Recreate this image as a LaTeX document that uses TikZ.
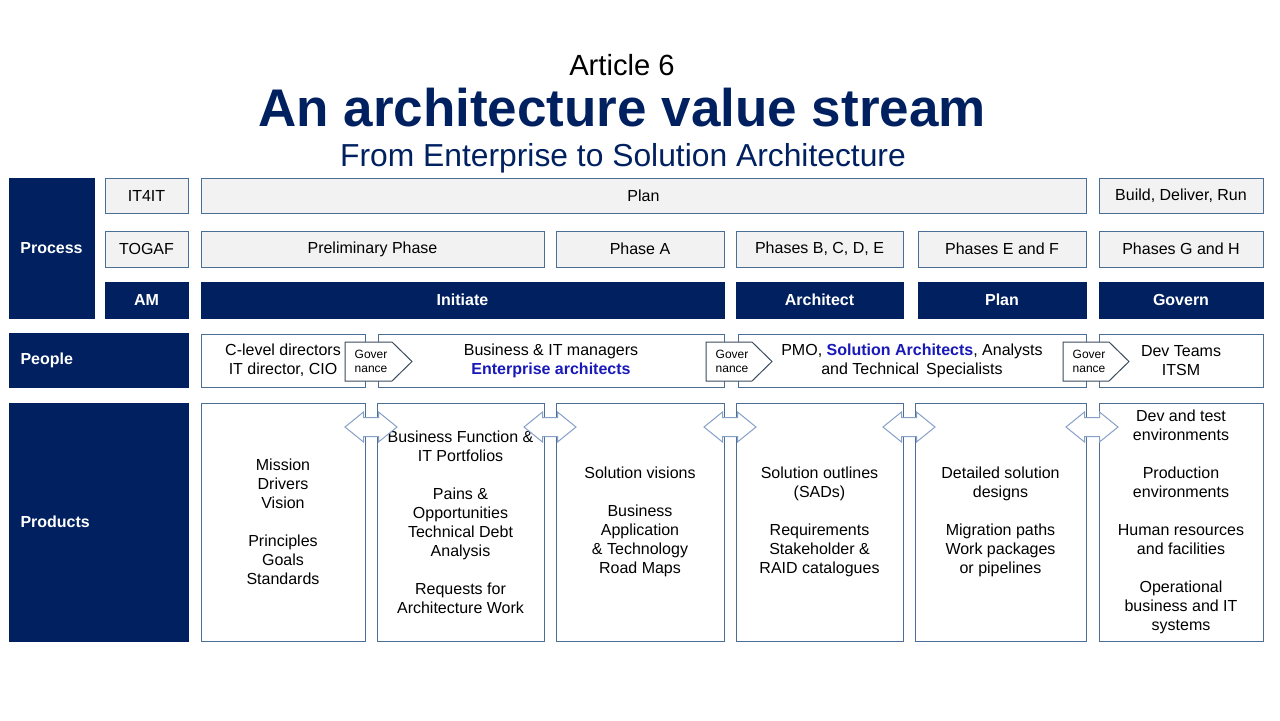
\documentclass[tikz,border=0pt]{standalone}
\usepackage{fontspec}
\setmainfont{Liberation Sans}
\definecolor{navy}{RGB}{0,32,96}
\definecolor{edge}{RGB}{75,110,150}
\definecolor{lightfill}{RGB}{242,242,242}
\definecolor{hl}{RGB}{25,25,185}
\definecolor{arrowedge}{RGB}{135,160,200}
\definecolor{govedge}{RGB}{60,75,95}

% box from its corners (pixel units): name, style, x1, y1, x2, y2, text
\newcommand\boxat[7]{%
  \pgfmathsetmacro\bw{(#5-#3)*0.5}%
  \pgfmathsetmacro\bh{(#6-#4)*0.5}%
  \node[#2, minimum width=\bw pt, minimum height=\bh pt] (#1) at ({(#3+#5)/2},{(#4+#6)/2}) {#7};}

% governance pentagon: name, left x, tip x
\newcommand\govshape[3]{%
  \draw[gov] (#2,342) -- ({#3-20},342) -- (#3,361.5) -- ({#3-20},381) -- (#2,381) -- cycle;
  \node[govtext] (#1) at ({#2+26},361.5) {Gover\\nance};}

% two-headed exchange arrow centred at x
\newcommand\exch[1]{%
  \draw[xarrow] ({#1-26},427) -- ({#1-7.5},412) -- ({#1-7.5},417.5) -- ({#1+7.5},417.5)
    -- ({#1+7.5},412) -- ({#1+26},427) -- ({#1+7.5},442) -- ({#1+7.5},436.5)
    -- ({#1-7.5},436.5) -- ({#1-7.5},442) -- cycle;}

\begin{document}
\begin{tikzpicture}[x=0.5pt,y=-0.5pt,
  base/.style={rectangle, inner sep=0pt, line width=0.5pt, align=center,
    font=\fontsize{8}{9.5}\selectfont},
  greybox/.style={base, draw=edge, fill=lightfill},
  whitebox/.style={base, draw=edge, fill=white},
  navybox/.style={base, draw=navy, fill=navy, text=white,
    font=\bfseries\fontsize{8}{9.5}\selectfont},
  sidelabel/.style={navybox, align=left, text width=78pt, inner xsep=5.5pt},
  gov/.style={draw=govedge, fill=white, line width=0.5pt},
  govtext/.style={inner sep=0pt, align=center, font=\fontsize{6}{7.2}\selectfont},
  xarrow/.style={draw=arrowedge, fill=white, line width=0.5pt, line join=miter},
  hltext/.style={text=hl, font=\bfseries}]
\useasboundingbox (0,0) rectangle (1280,720);

% titles
\node[anchor=base, font=\fontsize{14.6}{16}\selectfont] (art) at (622,75.5) {Article 6};
\node[anchor=base, text=navy, font=\bfseries\fontsize{26.5}{30}\selectfont] (ttl) at (622,126) {An architecture value stream};
\node[anchor=base, text=navy, font=\fontsize{15.9}{18}\selectfont] (sub) at (623,166) {From Enterprise to Solution Architecture};

% side labels
\boxat{process}{navybox}{9}{178}{94}{318}{Process}
\boxat{people}{sidelabel}{9}{333}{188}{387}{People}
\boxat{products}{sidelabel}{9}{403}{188}{641}{Products}

% process rows
\boxat{itfourit}{greybox}{105}{178}{188}{213}{IT4IT}
\boxat{togaf}{greybox}{105}{231}{188}{267}{TOGAF}
\boxat{am}{navybox}{105}{282}{188}{318}{AM}

\boxat{plan}{greybox}{201}{178}{1086}{213}{Plan}
\boxat{bdr}{greybox}{1099}{178}{1263}{213}{Build, Deliver, Run}

\boxat{prelim}{greybox}{201}{231}{544}{267}{Preliminary Phase}
\boxat{phasea}{greybox}{556}{231}{724}{267}{Phase A}
\boxat{phasebcde}{greybox}{736}{231}{903}{267}{Phases B, C, D, E}
\boxat{phaseef}{greybox}{918}{231}{1086}{267}{Phases E and F}
\boxat{phasegh}{greybox}{1099}{231}{1263}{267}{Phases G and H}

\boxat{initiate}{navybox}{201}{282}{724}{318}{Initiate}
\boxat{architect}{navybox}{736}{282}{903}{318}{Architect}
\boxat{planam}{navybox}{918}{282}{1086}{318}{Plan}
\boxat{govern}{navybox}{1099}{282}{1263}{318}{Govern}

% people row
\boxat{pp1}{whitebox}{201}{334}{365}{387}{C-level directors\\IT director, CIO}
\boxat{pp2}{whitebox}{378}{334}{724}{387}{Business \& IT managers\\\textcolor{hl}{\textbf{Enterprise architects}}}
\boxat{pp3}{whitebox}{738}{334}{1086}{387}{PMO, \textcolor{hl}{\textbf{Solution Architects}}, Analysts\\and Technical\ \,Specialists}
\boxat{pp4}{whitebox}{1099}{334}{1263}{387}{Dev Teams\\ITSM}

% products row
\boxat{pr1}{whitebox}{201}{403}{365}{641}{Mission\\Drivers\\Vision\\[9.5pt]Principles\\Goals\\Standards}
\boxat{pr2}{whitebox}{377}{403}{544}{641}{Business Function \&\\IT Portfolios\\[9.5pt]Pains \&\\Opportunities\\Technical Debt\\Analysis\\[9.5pt]Requests for\\Architecture Work}
\boxat{pr3}{whitebox}{556}{403}{724}{641}{Solution visions\\[9.5pt]Business\\Application\\\& Technology\\Road Maps}
\boxat{pr4}{whitebox}{736}{403}{903}{641}{Solution outlines\\(SADs)\\[9.5pt]Requirements\\Stakeholder \&\\RAID catalogues}
\boxat{pr5}{whitebox}{915}{403}{1086}{641}{Detailed solution\\designs\\[9.5pt]Migration paths\\Work packages\\or pipelines}
\boxat{pr6}{whitebox}{1099}{403}{1263}{641}{Dev and test\\environments\\[9.5pt]Production\\environments\\[9.5pt]Human resources\\and facilities\\[9.5pt]Operational\\business and IT\\systems}

% governance hand-overs
\govshape{gov1}{345}{412}
\govshape{gov2}{706}{772}
\govshape{gov3}{1063}{1129}

% product exchanges
\exch{371}
\exch{550}
\exch{730}
\exch{909}
\exch{1092}
\end{tikzpicture}
\end{document}
